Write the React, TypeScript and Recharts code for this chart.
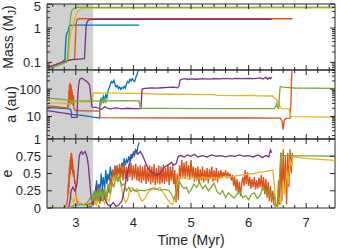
import { LineChart, Line, XAxis, YAxis, ReferenceArea } from 'recharts';

type Pt = [number, number];

// time axis (Myr)
const timeDomain: [number, number] = [2.5, 7.5];
const timeTicks = [2.6, 2.8, 3, 3.2, 3.4, 3.6, 3.8, 4, 4.2, 4.4, 4.6, 4.8, 5, 5.2, 5.4, 5.6, 5.8, 6, 6.2, 6.4, 6.6, 6.8, 7, 7.2, 7.4];
const grayUntil = 3.3;

// y axes
const massDomain: [number, number] = [0.06, 5];
const massTicks = [0.06, 0.07, 0.08, 0.09, 0.1, 0.2, 0.3, 0.4, 0.5, 0.6, 0.7, 0.8, 0.9, 1, 2, 3, 4, 5];
const massLabels = [0.1, 1, 5];
const aDomain: [number, number] = [1.5, 500];
const aTicks = [2, 3, 4, 5, 6, 7, 8, 9, 10, 20, 30, 40, 50, 60, 70, 80, 90, 100, 200, 300, 400, 500];
const aLabels = [10, 100];
const eDomain: [number, number] = [0, 1];
const eTicks = [0, 0.25, 0.5, 0.75, 1];
const eLabels = [0, 0.25, 0.5, 0.75, 1];

// planet mass (M_J)
const massBlue: Pt[] = [[2.5, 0.068], [2.6, 0.078], [2.7, 0.09], [2.76, 0.1], [2.81, 0.12], [2.825, 0.4], [2.835, 0.62], [2.85, 0.72], [2.87, 0.85], [2.885, 1.1], [2.9, 1.2], [3.0, 1.21], [4.1, 1.21]];
const massOrange: Pt[] = [[2.5, 0.07], [2.6, 0.08], [2.7, 0.092], [2.8, 0.105], [2.9, 0.118], [2.98, 0.125], [2.995, 0.5], [3.005, 1.3], [3.02, 1.75], [3.05, 1.86], [6.76, 1.86]];
const massYellow: Pt[] = [[2.5, 0.068], [2.6, 0.078], [2.7, 0.09], [2.8, 0.105], [2.87, 0.12], [2.89, 0.35], [2.91, 0.7], [2.94, 1.0], [2.97, 1.6], [3.0, 2.3], [3.04, 3.2], [3.08, 3.6], [3.15, 3.8], [7.5, 3.85]];
const massPurple: Pt[] = [[2.5, 0.07], [2.6, 0.08], [2.7, 0.092], [2.8, 0.105], [2.9, 0.118], [3.0, 0.123], [3.15, 0.128], [3.165, 0.4], [3.18, 1.2], [3.2, 1.55], [3.23, 1.72], [3.28, 1.78], [6.4, 1.78]];
const massGreen: Pt[] = [[2.5, 0.065], [2.6, 0.072], [2.7, 0.082], [2.8, 0.095], [2.85, 0.105], [2.87, 0.3], [2.89, 1.0], [2.91, 2.2], [2.93, 3.2], [2.97, 3.8], [3.02, 4.0], [7.5, 4.05]];

// semi-major axis (au)
const aBlue: Pt[] = [[2.5, 21.5], [2.7, 20.3], [2.9, 19], [2.92, 16], [2.93, 11.8], [3.1, 11], [3.2, 10.2], [3.3, 9.4], [3.41, 8.8], [3.42, 30], [3.44, 45], [3.46, 36], [3.48, 55], [3.5, 40], [3.52, 62], [3.54, 48], [3.56, 85], [3.58, 110], [3.6, 150], [3.62, 190], [3.64, 170], [3.66, 210], [3.68, 150], [3.7, 120], [3.72, 135], [3.74, 105], [3.76, 120], [3.78, 98], [3.8, 115], [3.82, 105], [3.84, 125], [3.86, 110], [3.88, 150], [3.9, 190], [3.92, 170], [3.94, 230], [3.96, 200], [3.98, 240], [4.0, 210], [4.02, 190], [4.04, 260], [4.06, 330], [4.08, 450], [4.1, 700]];
const aOrange: Pt[] = [[2.5, 25], [2.6, 23.5], [2.7, 22.2], [2.8, 21], [2.86, 20.3], [2.87, 40], [2.875, 22], [2.88, 90], [2.885, 30], [2.89, 150], [2.895, 45], [2.9, 170], [2.905, 60], [2.91, 120], [2.915, 35], [2.92, 140], [2.925, 50], [2.93, 100], [2.935, 30], [2.94, 80], [2.95, 25], [2.96, 60], [2.97, 20], [2.98, 17.5], [3.0, 16.5], [3.2, 16], [3.41, 15.8], [3.42, 9], [4.0, 8.9], [5.0, 8.8], [6.0, 8.8], [6.55, 8.7], [6.58, 7], [6.6, 3.3], [6.62, 7.5], [6.65, 8.5], [6.72, 8.7], [6.735, 30], [6.745, 200], [6.76, 1000]];
const aYellow: Pt[] = [[2.5, 33], [2.6, 32], [2.7, 31], [2.8, 30], [2.88, 29], [2.9, 27], [2.92, 31], [2.94, 38], [2.96, 33], [2.98, 36], [3.05, 35], [3.15, 34.5], [3.25, 35], [3.29, 36], [3.3, 72], [3.6, 71], [4.0, 70], [4.2, 69], [4.4, 66], [4.6, 65], [5.0, 64], [5.4, 63], [5.45, 59], [5.8, 58], [6.1, 59], [6.15, 57], [6.42, 56], [6.45, 48], [6.48, 42], [6.5, 37], [6.53, 30], [6.55, 21], [6.58, 19.5], [6.7, 19], [6.72, 13], [6.74, 9.8], [7.5, 9.4]];
const aPurple: Pt[] = [[2.5, 16.5], [2.6, 15.3], [2.7, 14.2], [2.8, 13.2], [2.9, 12.2], [2.92, 11], [2.93, 9.3], [3.02, 9.2], [3.03, 40], [3.05, 150], [3.07, 230], [3.1, 250], [3.13, 235], [3.16, 210], [3.19, 190], [3.22, 165], [3.24, 140], [3.26, 60], [3.28, 23], [3.3, 21], [3.35, 22], [3.4, 20], [3.45, 18], [3.5, 23], [3.55, 20], [3.6, 19], [3.7, 20.5], [3.8, 19], [3.9, 20], [4.0, 19.5], [4.13, 19.5], [4.15, 100], [4.2, 106], [4.3, 110], [4.4, 108], [4.5, 112], [4.6, 115], [4.7, 118], [4.76, 112], [4.79, 125], [4.81, 215], [4.85, 230], [4.9, 240], [4.95, 225], [5.0, 238], [5.1, 230], [5.2, 242], [5.3, 232], [5.4, 240], [5.5, 235], [5.6, 245], [5.7, 236], [5.8, 246], [5.9, 240], [6.0, 248], [6.1, 240], [6.2, 258], [6.25, 235], [6.3, 275], [6.33, 230], [6.36, 262], [6.38, 240], [6.4, 280]];
const aGreen: Pt[] = [[2.5, 47], [2.6, 45.5], [2.7, 43.5], [2.8, 41.5], [2.88, 40], [2.9, 36], [2.91, 31], [2.92, 37], [2.93, 29], [2.94, 38], [2.96, 33], [2.98, 37], [3.1, 37], [3.3, 37], [3.42, 36.5], [3.44, 28], [3.46, 48], [3.48, 30], [3.5, 44], [3.52, 33], [3.54, 40], [3.56, 37], [3.8, 37.5], [4.1, 37], [4.12, 20], [4.5, 19.8], [5.5, 19.5], [6.45, 19.3], [6.47, 24], [6.49, 30], [6.5, 21], [6.52, 19.5], [6.535, 60], [6.55, 125], [6.6, 118], [6.8, 110], [7.5, 107]];

// eccentricity
const eBlue: Pt[] = [[2.5, 0.003], [3.2, 0.005], [3.26, 0.02], [3.28, 0.1], [3.3, 0.05], [3.32, 0.25], [3.34, 0.1], [3.36, 0.4], [3.38, 0.15], [3.4, 0.35], [3.42, 0.2], [3.44, 0.5], [3.46, 0.3], [3.48, 0.45], [3.5, 0.25], [3.52, 0.55], [3.54, 0.35], [3.56, 0.5], [3.58, 0.4], [3.6, 0.6], [3.62, 0.45], [3.64, 0.55], [3.66, 0.42], [3.68, 0.6], [3.7, 0.5], [3.72, 0.62], [3.74, 0.48], [3.76, 0.58], [3.78, 0.52], [3.8, 0.66], [3.82, 0.6], [3.84, 0.72], [3.86, 0.62], [3.88, 0.7], [3.9, 0.65], [3.92, 0.75], [3.94, 0.68], [3.96, 0.78], [3.98, 0.72], [4.0, 0.8], [4.02, 0.76], [4.04, 0.84], [4.06, 0.8], [4.08, 0.9], [4.1, 0.95]];
const eOrange: Pt[] = [
  [2.5, 0.005], [2.8, 0.01], [2.84, 0.05], [2.86, 0.15], [2.87, 0.35], [2.875, 0.2], [2.88, 0.5], [2.885, 0.3], [2.89, 0.6], [2.895, 0.45],
  [2.9, 0.7], [2.905, 0.5], [2.91, 0.75], [2.915, 0.55], [2.92, 0.8], [2.925, 0.6], [2.93, 0.78], [2.935, 0.55], [2.94, 0.72], [2.945, 0.5],
  [2.95, 0.65], [2.96, 0.45], [2.97, 0.55], [2.98, 0.35], [2.99, 0.4], [3.0, 0.2], [3.01, 0.15], [3.03, 0.08], [3.1, 0.05], [3.2, 0.05],
  [3.3, 0.08], [3.32, 0.15], [3.34, 0.05], [3.36, 0.2], [3.38, 0.08], [3.4, 0.18], [3.42, 0.06], [3.44, 0.22], [3.46, 0.1], [3.48, 0.25],
  [3.5, 0.12], [3.52, 0.2], [3.54, 0.15], [3.56, 0.3], [3.58, 0.22], [3.6, 0.45], [3.62, 0.32], [3.64, 0.56], [3.66, 0.4], [3.68, 0.62],
  [3.7, 0.42], [3.72, 0.6], [3.74, 0.38], [3.76, 0.64], [3.78, 0.44], [3.8, 0.62], [3.82, 0.4], [3.84, 0.66], [3.86, 0.42], [3.88, 0.6],
  [3.9, 0.38], [3.92, 0.63], [3.94, 0.45], [3.96, 0.65], [3.98, 0.4], [4.0, 0.62], [4.02, 0.43], [4.04, 0.64], [4.06, 0.4], [4.08, 0.6],
  [4.1, 0.38], [4.12, 0.62], [4.14, 0.36], [4.16, 0.6], [4.18, 0.4], [4.2, 0.63], [4.22, 0.35], [4.24, 0.58], [4.26, 0.38], [4.28, 0.62],
  [4.3, 0.34], [4.32, 0.6], [4.34, 0.37], [4.36, 0.64], [4.38, 0.33], [4.4, 0.58], [4.42, 0.36], [4.44, 0.62], [4.46, 0.34], [4.48, 0.6],
  [4.5, 0.36], [4.52, 0.63], [4.54, 0.35], [4.56, 0.58], [4.58, 0.38], [4.6, 0.64], [4.62, 0.33], [4.64, 0.6], [4.66, 0.4], [4.68, 0.62],
  [4.7, 0.35], [4.72, 0.55], [4.74, 0.08], [4.76, 0.5], [4.78, 0.12], [4.8, 0.62], [4.82, 0.42], [4.84, 0.7], [4.86, 0.45], [4.88, 0.66],
  [4.9, 0.42], [4.92, 0.68], [4.94, 0.45], [4.96, 0.62], [4.98, 0.41], [5.0, 0.7], [5.02, 0.44], [5.04, 0.6], [5.06, 0.38], [5.08, 0.58],
  [5.1, 0.4], [5.12, 0.6], [5.14, 0.36], [5.16, 0.56], [5.18, 0.4], [5.2, 0.6], [5.22, 0.37], [5.24, 0.55], [5.26, 0.4], [5.28, 0.58],
  [5.3, 0.36], [5.32, 0.56], [5.34, 0.42], [5.36, 0.6], [5.38, 0.38], [5.4, 0.55], [5.42, 0.4], [5.44, 0.58], [5.46, 0.37], [5.48, 0.54],
  [5.5, 0.43], [5.52, 0.55], [5.54, 0.44], [5.56, 0.52], [5.58, 0.45], [5.6, 0.55], [5.62, 0.43], [5.64, 0.52], [5.66, 0.44], [5.68, 0.5],
  [5.7, 0.4], [5.72, 0.48], [5.74, 0.32], [5.76, 0.45], [5.78, 0.25], [5.8, 0.42], [5.82, 0.2], [5.84, 0.38], [5.86, 0.17], [5.88, 0.35],
  [5.9, 0.45], [5.92, 0.32], [5.94, 0.55], [5.96, 0.35], [5.98, 0.52], [6.0, 0.32], [6.02, 0.45], [6.04, 0.28], [6.06, 0.42], [6.08, 0.3],
  [6.1, 0.45], [6.12, 0.27], [6.14, 0.4], [6.16, 0.28], [6.18, 0.44], [6.2, 0.3], [6.22, 0.48], [6.24, 0.25], [6.26, 0.45], [6.28, 0.2],
  [6.3, 0.42], [6.32, 0.15], [6.34, 0.38], [6.36, 0.1], [6.38, 0.32], [6.4, 0.08], [6.42, 0.25], [6.44, 0.05], [6.46, 0.03], [6.48, 0.01],
  [6.5, 0.02], [6.52, 0.4], [6.54, 0.05], [6.56, 0.8], [6.58, 0.1], [6.6, 0.85], [6.62, 0.2], [6.64, 0.75], [6.66, 0.05], [6.68, 0.8],
  [6.7, 0.3], [6.72, 0.85], [6.74, 0.5], [6.76, 0.8],
];
const eYellow: Pt[] = [[2.5, 0.003], [2.86, 0.005], [2.9, 0.1], [2.93, 0.15], [2.96, 0.08], [3.0, 0.17], [3.03, 0.12], [3.06, 0.06], [3.1, 0.04], [3.2, 0.03], [3.3, 0.05], [3.33, 0.12], [3.36, 0.04], [3.4, 0.15], [3.43, 0.08], [3.46, 0.18], [3.5, 0.06], [3.54, 0.14], [3.58, 0.1], [3.62, 0.3], [3.66, 0.45], [3.7, 0.4], [3.74, 0.48], [3.78, 0.35], [3.82, 0.18], [3.86, 0.08], [3.9, 0.12], [3.94, 0.28], [3.98, 0.3], [4.02, 0.24], [4.06, 0.28], [4.1, 0.18], [4.15, 0.1], [4.2, 0.14], [4.25, 0.22], [4.3, 0.26], [4.35, 0.3], [4.4, 0.27], [4.46, 0.3], [4.52, 0.22], [4.58, 0.14], [4.64, 0.07], [4.68, 0.05], [4.72, 0.15], [4.76, 0.35], [4.8, 0.45], [4.85, 0.43], [4.9, 0.45], [4.95, 0.42], [5.0, 0.44], [5.1, 0.42], [5.2, 0.45], [5.3, 0.43], [5.4, 0.44], [5.5, 0.43], [5.6, 0.46], [5.7, 0.45], [5.8, 0.47], [5.9, 0.48], [6.0, 0.49], [6.1, 0.5], [6.2, 0.52], [6.3, 0.53], [6.42, 0.55], [6.45, 0.3], [6.48, 0.02], [6.5, 0.0], [6.53, 0.15], [6.56, 0.05], [6.6, 0.4], [6.63, 0.2], [6.66, 0.55], [6.69, 0.35], [6.72, 0.7], [6.75, 0.6], [6.77, 0.74], [7.0, 0.72], [7.3, 0.7], [7.5, 0.69]];
const ePurple: Pt[] = [[2.5, 0.005], [2.88, 0.01], [2.9, 0.1], [2.92, 0.25], [2.95, 0.3], [2.98, 0.25], [3.0, 0.28], [3.02, 0.35], [3.04, 0.55], [3.06, 0.75], [3.08, 0.8], [3.1, 0.82], [3.12, 0.78], [3.14, 0.8], [3.16, 0.82], [3.18, 0.78], [3.2, 0.72], [3.22, 0.6], [3.24, 0.4], [3.26, 0.2], [3.28, 0.08], [3.3, 0.05], [3.33, 0.2], [3.36, 0.35], [3.38, 0.15], [3.4, 0.25], [3.43, 0.1], [3.46, 0.3], [3.5, 0.15], [3.55, 0.05], [3.6, 0.03], [3.65, 0.08], [3.7, 0.02], [3.75, 0.05], [3.8, 0.1], [3.84, 0.25], [3.88, 0.45], [3.92, 0.6], [3.96, 0.72], [4.0, 0.8], [4.04, 0.83], [4.08, 0.78], [4.12, 0.82], [4.16, 0.76], [4.2, 0.68], [4.24, 0.6], [4.28, 0.55], [4.32, 0.52], [4.36, 0.5], [4.4, 0.48], [4.46, 0.5], [4.5, 0.55], [4.55, 0.6], [4.6, 0.62], [4.66, 0.66], [4.7, 0.62], [4.74, 0.64], [4.78, 0.75], [4.82, 0.76], [4.88, 0.74], [4.94, 0.77], [5.0, 0.75], [5.06, 0.78], [5.12, 0.74], [5.2, 0.76], [5.28, 0.74], [5.36, 0.77], [5.44, 0.75], [5.52, 0.76], [5.6, 0.74], [5.68, 0.76], [5.76, 0.75], [5.84, 0.77], [5.92, 0.75], [6.0, 0.76], [6.08, 0.74], [6.16, 0.77], [6.24, 0.73], [6.3, 0.76], [6.35, 0.74], [6.38, 0.84], [6.4, 0.8]];
const eGreen: Pt[] = [[2.5, 0.003], [2.9, 0.005], [2.95, 0.03], [3.0, 0.05], [3.05, 0.04], [3.1, 0.06], [3.15, 0.05], [3.2, 0.08], [3.25, 0.15], [3.28, 0.08], [3.3, 0.22], [3.32, 0.1], [3.34, 0.25], [3.36, 0.12], [3.38, 0.28], [3.4, 0.1], [3.42, 0.3], [3.44, 0.15], [3.46, 0.25], [3.48, 0.1], [3.5, 0.3], [3.53, 0.15], [3.56, 0.35], [3.6, 0.2], [3.63, 0.38], [3.66, 0.3], [3.7, 0.48], [3.73, 0.4], [3.76, 0.45], [3.8, 0.32], [3.84, 0.35], [3.88, 0.25], [3.92, 0.3], [3.96, 0.24], [4.0, 0.27], [4.05, 0.24], [4.1, 0.26], [4.2, 0.25], [4.3, 0.28], [4.4, 0.27], [4.46, 0.26], [4.55, 0.27], [4.62, 0.25], [4.66, 0.2], [4.7, 0.13], [4.73, 0.18], [4.76, 0.3], [4.8, 0.38], [4.84, 0.32], [4.88, 0.28], [4.92, 0.3], [4.96, 0.22], [5.0, 0.26], [5.05, 0.35], [5.1, 0.3], [5.15, 0.37], [5.2, 0.28], [5.25, 0.33], [5.3, 0.25], [5.35, 0.3], [5.4, 0.36], [5.45, 0.24], [5.5, 0.2], [5.55, 0.25], [5.6, 0.15], [5.65, 0.22], [5.7, 0.18], [5.75, 0.14], [5.8, 0.2], [5.85, 0.24], [5.9, 0.15], [5.95, 0.18], [6.0, 0.12], [6.05, 0.2], [6.1, 0.22], [6.15, 0.14], [6.2, 0.18], [6.25, 0.3], [6.3, 0.22], [6.35, 0.26], [6.4, 0.15], [6.44, 0.2], [6.47, 0.05], [6.5, 0.02], [6.52, 0.1], [6.54, 0.5], [6.56, 0.8], [6.58, 0.76], [6.65, 0.76], [7.0, 0.755], [7.5, 0.75]];

const BLUE = '#0072BD';
const ORANGE = '#D95319';
const YELLOW = '#EDB120';
const PURPLE = '#7E2F8E';
const GREEN = '#77AC30';
const INK = '#262626';
const FONT = "'Liberation Sans', Arial, Helvetica, sans-serif";

const W = 337;
const PAD = 8; // room above each plot so the top tick label isn't clipped
const LEFT = 47;
const RIGHT = 335;

const toRows = (pts: Pt[]) => pts.map(([t, v]) => ({ t, v }));

function TimeTick(props: any) {
  const { x, payload, plotH, withLabel } = props;
  const v = payload.value;
  const major = Number.isInteger(v);
  const len = major ? 5 : 3;
  const yBot = PAD + plotH;
  return (
    <g>
      <line x1={x} x2={x} y1={yBot} y2={yBot - len} stroke={INK} strokeWidth={1} />
      <line x1={x} x2={x} y1={PAD} y2={PAD + len} stroke={INK} strokeWidth={1} />
      {withLabel && major && (
        <text x={x} y={yBot + 19} textAnchor="middle" fontSize={13} fontFamily={FONT} fill={INK}>
          {v}
        </text>
      )}
    </g>
  );
}

function ValueTick(props: any) {
  const { y, payload, labels, minLabelY } = props;
  const v = payload.value;
  const major = labels.includes(v);
  const len = major ? 5 : 3;
  return (
    <g>
      <line x1={LEFT} x2={LEFT + len} y1={y} y2={y} stroke={INK} strokeWidth={1} />
      <line x1={RIGHT - len} x2={RIGHT} y1={y} y2={y} stroke={INK} strokeWidth={1} />
      {major && (
        <text x={41} y={Math.max(y, minLabelY ?? 0)} dy="0.35em" textAnchor="end" fontSize={13} fontFamily={FONT} fill={INK}>
          {v}
        </text>
      )}
    </g>
  );
}

function SideTitle({ bx, by, kind }: { bx: number; by: number; kind: string }) {
  return (
    <text x={bx} y={by} transform={`rotate(-90 ${bx} ${by})`} textAnchor="middle" fontSize={14} fontFamily={FONT} fill={INK}>
      {kind === 'mass' ? (
        <>
          Mass (M<tspan dy={3} fontSize={10}>J</tspan>
          <tspan dy={-3}>)</tspan>
        </>
      ) : kind}
    </text>
  );
}

function BottomTitle({ by }: { by: number }) {
  return (
    <text x={(LEFT + RIGHT) / 2} y={by} textAnchor="middle" fontSize={14} fontFamily={FONT} fill={INK}>
      Time (Myr)
    </text>
  );
}

interface PanelProps {
  top: number;
  plotH: number;
  axisH: number;
  domain: [number, number];
  ticks: number[];
  labels: number[];
  scale: 'log' | 'linear';
  series: { name: string; pts: Pt[]; color: string }[];
  title: string;
  titleX: number;
  minLabelY?: number;
  showTime?: boolean;
}

function Panel({ top, plotH, axisH, domain, ticks, labels, scale, series, title, titleX, minLabelY, showTime }: PanelProps) {
  return (
    <div style={{ position: 'absolute', left: 0, top: top - PAD }}>
      <LineChart width={W} height={PAD + plotH + axisH} margin={{ top: PAD, right: W - RIGHT, bottom: 0, left: 0 }}>
        <ReferenceArea x1={timeDomain[0]} x2={grayUntil} fill="#d0d0d0" fillOpacity={1} stroke="none" />
        <XAxis
          type="number"
          dataKey="t"
          domain={timeDomain}
          allowDataOverflow
          ticks={timeTicks}
          interval={0}
          height={axisH}
          axisLine={false}
          tickLine={false}
          tick={(p: any) => <TimeTick {...p} plotH={plotH} withLabel={showTime} />}
          label={showTime ? <BottomTitle by={PAD + plotH + 37} /> : undefined}
        />
        <YAxis
          type="number"
          scale={scale}
          domain={domain}
          allowDataOverflow
          ticks={ticks}
          interval={0}
          width={LEFT}
          axisLine={false}
          tickLine={false}
          tick={(p: any) => <ValueTick {...p} labels={labels} minLabelY={minLabelY} />}
          label={<SideTitle bx={titleX} by={PAD + plotH / 2} kind={title} />}
        />
        {series.map((s) => (
          <Line
            key={s.name}
            name={s.name}
            data={toRows(s.pts)}
            dataKey="v"
            type="linear"
            stroke={s.color}
            strokeWidth={1.3}
            dot={false}
            activeDot={false}
            isAnimationActive={false}
          />
        ))}
        <ReferenceArea x1={timeDomain[0]} x2={timeDomain[1]} y1={domain[0]} y2={domain[1]} fill="none" stroke={INK} strokeWidth={1} />
      </LineChart>
    </div>
  );
}

export default function App() {
  return (
    <div style={{ position: 'absolute', left: 0, top: 0, width: W, height: 249, background: '#fff' }}>
      <Panel
        top={4}
        plotH={66}
        axisH={1}
        domain={massDomain}
        ticks={massTicks}
        labels={massLabels}
        scale="log"
        title="mass"
        titleX={13}
        minLabelY={PAD + 2.5}
        series={[
          { name: 'blue', pts: massBlue, color: BLUE },
          { name: 'orange', pts: massOrange, color: ORANGE },
          { name: 'yellow', pts: massYellow, color: YELLOW },
          { name: 'purple', pts: massPurple, color: PURPLE },
          { name: 'green', pts: massGreen, color: GREEN },
        ]}
      />
      <Panel
        top={70}
        plotH={69}
        axisH={1}
        domain={aDomain}
        ticks={aTicks}
        labels={aLabels}
        scale="log"
        title="a (au)"
        titleX={15.5}
        series={[
          { name: 'blue', pts: aBlue, color: BLUE },
          { name: 'orange', pts: aOrange, color: ORANGE },
          { name: 'yellow', pts: aYellow, color: YELLOW },
          { name: 'purple', pts: aPurple, color: PURPLE },
          { name: 'green', pts: aGreen, color: GREEN },
        ]}
      />
      <Panel
        top={139}
        plotH={69}
        axisH={41}
        domain={eDomain}
        ticks={eTicks}
        labels={eLabels}
        scale="linear"
        title="e"
        titleX={12}
        showTime
        series={[
          { name: 'blue', pts: eBlue, color: BLUE },
          { name: 'orange', pts: eOrange, color: ORANGE },
          { name: 'yellow', pts: eYellow, color: YELLOW },
          { name: 'purple', pts: ePurple, color: PURPLE },
          { name: 'green', pts: eGreen, color: GREEN },
        ]}
      />
    </div>
  );
}
